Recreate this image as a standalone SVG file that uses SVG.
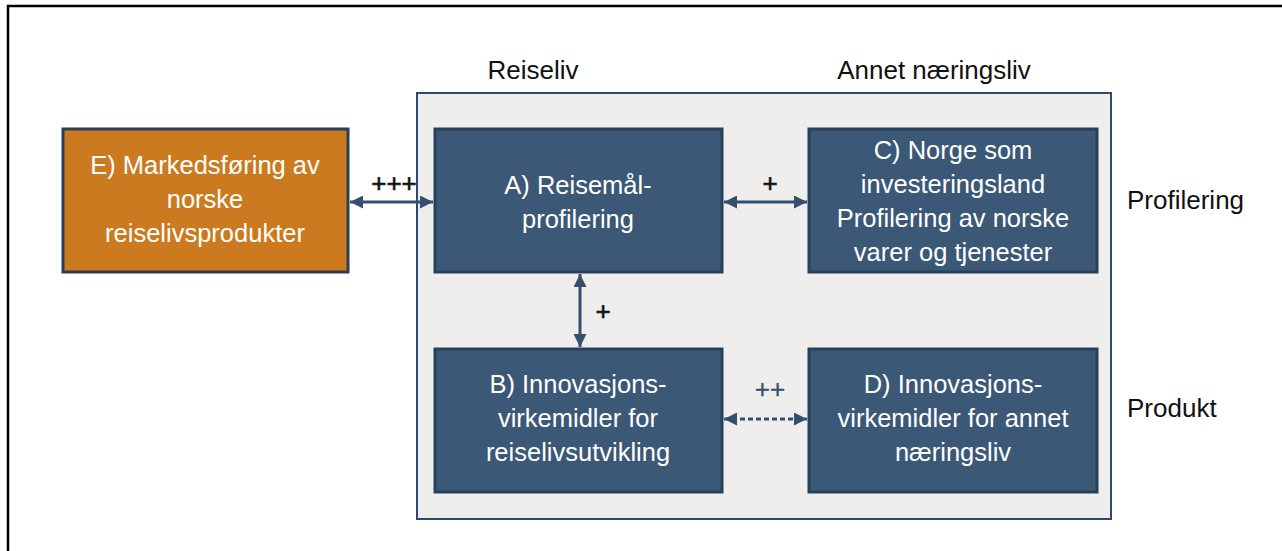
<svg xmlns="http://www.w3.org/2000/svg" width="1282" height="551" viewBox="0 0 1282 551">
<defs>
<style>
.t{font-family:"Liberation Sans",Arial,sans-serif;font-size:26px;fill:#111;}
.w{font-family:"Liberation Sans",Arial,sans-serif;font-size:25.5px;fill:#fff;text-anchor:middle;}
.n{fill:#3B5877;stroke:#28405A;stroke-width:3;}
.c{stroke:#34506E;stroke-width:3;fill:none;}
.lbl{font-family:"Liberation Sans",Arial,sans-serif;font-size:26px;fill:#111;stroke:#111;stroke-width:0.6;text-anchor:middle;}
</style>
<marker id="ah" viewBox="0 0 10 10" refX="10" refY="5" markerWidth="14" markerHeight="13" orient="auto-start-reverse" markerUnits="userSpaceOnUse">
<path d="M0,0 L10,5 L0,10 z" fill="#34506E"/>
</marker>
</defs>
<rect width="1282" height="551" fill="#fff"/>
<path d="M8,551 V6 H1282" fill="none" stroke="#000" stroke-width="2.5"/>
<text class="t" x="533" y="79" text-anchor="middle">Reiseliv</text>
<text class="t" x="934" y="79" text-anchor="middle">Annet næringsliv</text>
<text class="t" x="1127" y="209">Profilering</text>
<text class="t" x="1127" y="417">Produkt</text>
<g id="container">
<rect x="417" y="93" width="694" height="426" fill="#EFEEEC" stroke="#2F4A66" stroke-width="2"/>
</g>
<g id="nodeE">
<rect x="63" y="129" width="285" height="143" fill="#CC7A1F" stroke="#2C3E55" stroke-width="3"/>
<text class="w" x="205" y="174">E) Markedsføring av</text>
<text class="w" x="205" y="208">norske</text>
<text class="w" x="205" y="242">reiselivsprodukter</text>
</g>
<g id="nodeA">
<rect class="n" x="435" y="129" width="287" height="143"/>
<text class="w" x="578" y="194">A) Reisemål-</text>
<text class="w" x="578" y="228">profilering</text>
</g>
<g id="nodeC">
<rect class="n" x="809" y="129" width="288" height="143"/>
<text class="w" x="953" y="159">C) Norge som</text>
<text class="w" x="953" y="193">investeringsland</text>
<text class="w" x="953" y="227">Profilering av norske</text>
<text class="w" x="953" y="261">varer og tjenester</text>
</g>
<g id="nodeB">
<rect class="n" x="435" y="349" width="287" height="143"/>
<text class="w" x="578" y="393">B) Innovasjons-</text>
<text class="w" x="578" y="427">virkemidler for</text>
<text class="w" x="578" y="461">reiselivsutvikling</text>
</g>
<g id="nodeD">
<rect class="n" x="809" y="349" width="288" height="143"/>
<text class="w" x="953" y="393">D) Innovasjons-</text>
<text class="w" x="953" y="427">virkemidler for annet</text>
<text class="w" x="953" y="461">næringsliv</text>
</g>
<g id="connectors">
<line class="c" x1="350" y1="202" x2="433" y2="202" marker-start="url(#ah)" marker-end="url(#ah)"/>
<line class="c" x1="724" y1="202" x2="807" y2="202" marker-start="url(#ah)" marker-end="url(#ah)"/>
<line class="c" x1="580" y1="274" x2="580" y2="347" marker-start="url(#ah)" marker-end="url(#ah)"/>
<line class="c" x1="724" y1="419" x2="807" y2="419" stroke-width="2" stroke-dasharray="5,3" marker-start="url(#ah)" marker-end="url(#ah)"/>
<text class="lbl" x="394" y="192">+++</text>
<text class="lbl" x="770" y="192">+</text>
<text class="lbl" x="603" y="320">+</text>
<text class="lbl" x="770" y="398" style="fill:#34506E;stroke:#34506E;stroke-width:0.3">++</text>
</g>
</svg>
